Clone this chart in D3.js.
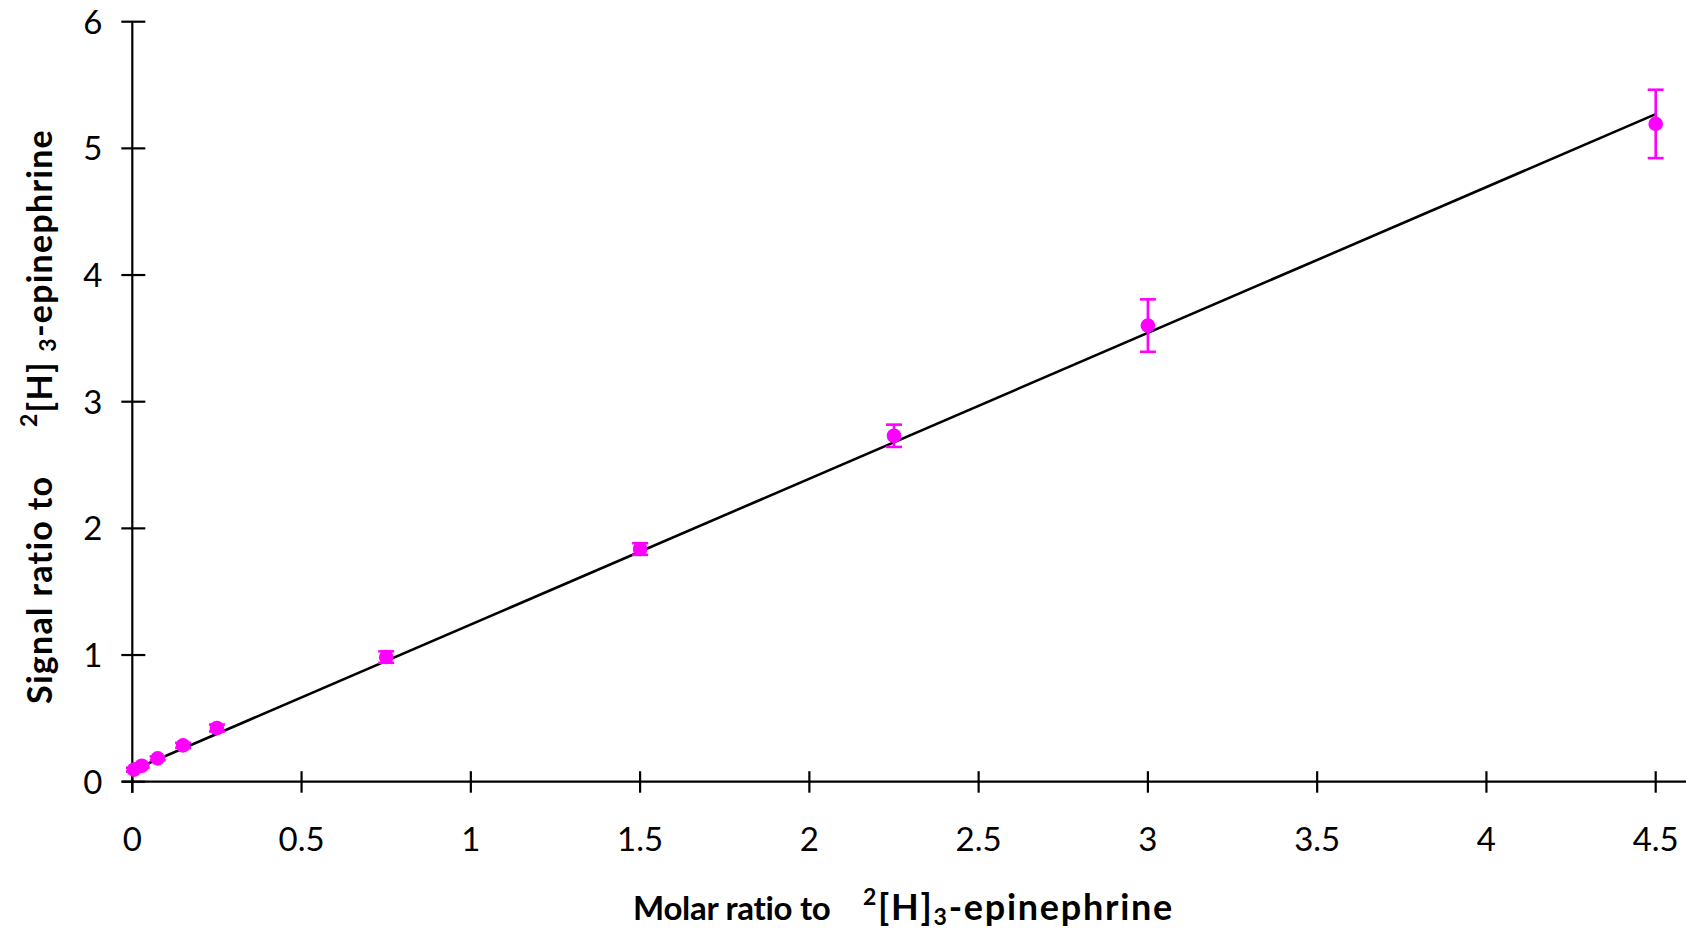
<!DOCTYPE html>
<html>
<head>
<meta charset="utf-8">
<script src="https://cdn.jsdelivr.net/npm/d3@7"></script>
<style>
  html, body { margin: 0; padding: 0; background: #fff; }
  svg { display: block; }
  text { font-family: Lato, "Open Sans", sans-serif; fill: #000; }
</style>
</head>
<body>
<svg id="chart" width="1686" height="932"></svg>
<script>
// Calibration points: molar ratio vs. signal ratio, with standard deviations
const molarRatio  = [0.005, 0.028, 0.075, 0.15, 0.25, 0.75, 1.5, 2.25, 3.0, 4.5];
const signalRatio = [0.095, 0.126, 0.184, 0.287, 0.424, 0.984, 1.837, 2.731, 3.601, 5.193];
const signalSD    = [0.015, 0.015, 0.015, 0.02, 0.027, 0.045, 0.046, 0.088, 0.207, 0.27];

// Linear fit endpoints
const fitX = [0, 4.5];
const fitY = [0.09, 5.27];

const xTicks = [0, 0.5, 1, 1.5, 2, 2.5, 3, 3.5, 4, 4.5];
const yTicks = [0, 1, 2, 3, 4, 5, 6];

const svg = d3.select("#chart");
const W = 1686;

const x = d3.scaleLinear().domain([0, 4.5]).range([132.3, 1655.7]);
const y = d3.scaleLinear().domain([0, 6]).range([781.7, 21.7]);

const MAG = "#ff00ff";

// X axis: line runs to the right edge, ticks cross the line
const gx = svg.append("g").attr("transform", `translate(0,${y(0)})`);
gx.append("line")
  .attr("x1", x(0) - 10.5).attr("x2", W)
  .attr("stroke", "#000").attr("stroke-width", 2.2);
gx.selectAll("line.tick").data(xTicks).join("line")
  .attr("class", "tick")
  .attr("x1", d => x(d)).attr("x2", d => x(d))
  .attr("y1", -10.5).attr("y2", 11)
  .attr("stroke", "#000").attr("stroke-width", 2.2);
gx.selectAll("text").data(xTicks).join("text")
  .attr("x", d => x(d)).attr("y", 69)
  .attr("text-anchor", "middle")
  .style("font-size", "33px")
  .text(d => d3.format("~g")(d));

// Y axis
const gy = svg.append("g").attr("transform", `translate(${x(0)},0)`);
gy.append("line")
  .attr("y1", y(6)).attr("y2", y(0) + 11)
  .attr("stroke", "#000").attr("stroke-width", 2.2);
gy.selectAll("line.tick").data(yTicks).join("line")
  .attr("class", "tick")
  .attr("x1", -11).attr("x2", 13)
  .attr("y1", d => y(d)).attr("y2", d => y(d))
  .attr("stroke", "#000").attr("stroke-width", 2.2);
gy.selectAll("text").data(yTicks).join("text")
  .attr("x", -30).attr("y", d => y(d) + 12)
  .attr("text-anchor", "end")
  .style("font-size", "33px")
  .text(d => d);

// Regression line
svg.append("path")
  .datum(d3.zip(fitX, fitY))
  .attr("d", d3.line().x(d => x(d[0])).y(d => y(d[1])))
  .attr("fill", "none").attr("stroke", "#000").attr("stroke-width", 2.6);

// Error bars
const pts = d3.zip(molarRatio, signalRatio, signalSD);
const eb = svg.append("g").attr("stroke", MAG).attr("stroke-width", 2.6);
eb.selectAll("line.v").data(pts).join("line")
  .attr("class", "v")
  .attr("x1", d => x(d[0])).attr("x2", d => x(d[0]))
  .attr("y1", d => y(d[1] - d[2])).attr("y2", d => y(d[1] + d[2]));
eb.selectAll("line.top").data(pts).join("line")
  .attr("class", "top")
  .attr("x1", d => x(d[0]) - 8).attr("x2", d => x(d[0]) + 8)
  .attr("y1", d => y(d[1] + d[2])).attr("y2", d => y(d[1] + d[2]));
eb.selectAll("line.bot").data(pts).join("line")
  .attr("class", "bot")
  .attr("x1", d => x(d[0]) - 8).attr("x2", d => x(d[0]) + 8)
  .attr("y1", d => y(d[1] - d[2])).attr("y2", d => y(d[1] - d[2]));

// Markers
svg.append("g").selectAll("circle").data(pts).join("circle")
  .attr("cx", d => x(d[0])).attr("cy", d => y(d[1]))
  .attr("r", 7.3).attr("fill", MAG);

// Spread a title piece's letters so that it spans the given length
function fit(sel, span) {
  const n = sel.text().length;
  const len = sel.node().getComputedTextLength();
  sel.style("letter-spacing", ((span - len) / n) + "px");
}

// Labelled-compound name with superscript mass number and subscript count
function compound(t, subDy, gap) {
  t.append("tspan").attr("dy", -15).style("font-size", "23px").text("2");
  t.append("tspan").attr("dy", 15).text(gap ? "[H] " : "[H]");
  t.append("tspan").attr("dy", subDy).style("font-size", "23px").text("3");
  t.append("tspan").attr("dy", -subDy).text("-epinephrine");
}

// X axis title
const xt1 = svg.append("text")
  .attr("x", 633).attr("y", 920)
  .style("font-size", "33px").style("font-weight", "bold")
  .text("Molar ratio to");
fit(xt1, 198);
const xt2 = svg.append("text")
  .attr("x", 863).attr("y", 920)
  .style("font-size", "36px").style("font-weight", "bold");
compound(xt2, 5, false);
fit(xt2, 311);

// Y axis title (rotated)
const yt1 = svg.append("text")
  .attr("transform", "translate(52,704) rotate(-90)")
  .style("font-size", "34px").style("font-weight", "bold")
  .text("Signal ratio to");
fit(yt1, 229);
const yt2 = svg.append("text")
  .attr("transform", "translate(52,427) rotate(-90)")
  .style("font-size", "34px").style("font-weight", "bold");
compound(yt2, 4, true);
fit(yt2, 298);
</script>
</body>
</html>
